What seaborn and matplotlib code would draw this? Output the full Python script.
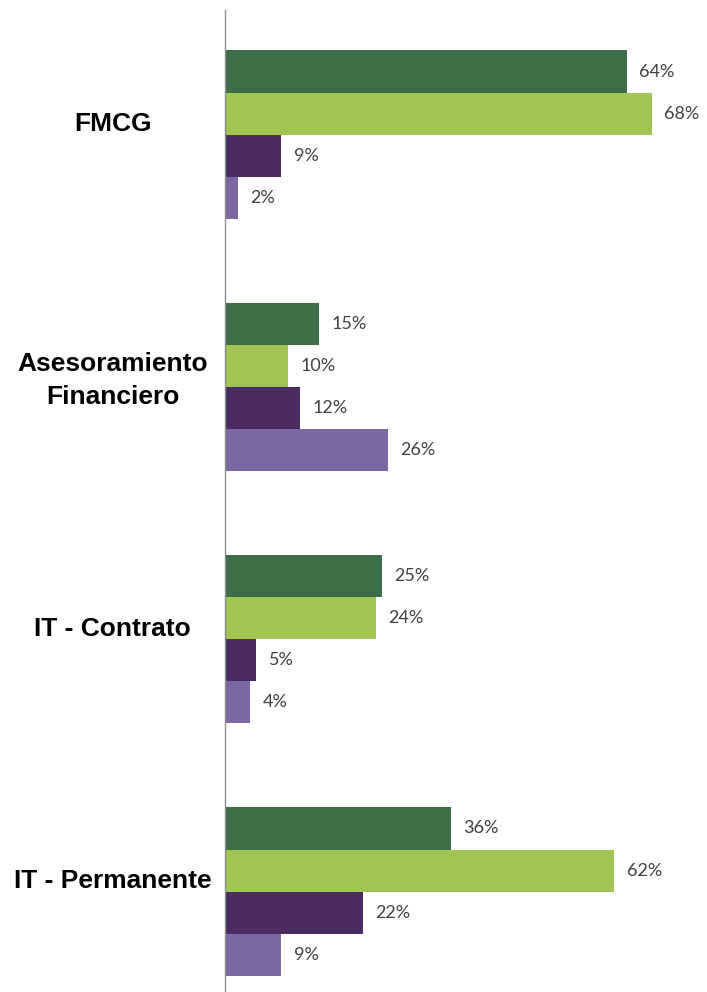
import pandas as pd
import matplotlib.pyplot as plt
import matplotlib.transforms as mtransforms
import seaborn as sns

# ================================
# DATA
# ================================
sectores = ["FMCG", "Asesoramiento\nFinanciero", "IT - Contrato", "IT - Permanente"]
series = ["Serie 1", "Serie 2", "Serie 3", "Serie 4"]
serie_1 = [64, 15, 25, 36]
serie_2 = [68, 10, 24, 62]
serie_3 = [9, 12, 5, 22]
serie_4 = [2, 26, 4, 9]
colores = ["#3E6E47", "#A0C552", "#4A2C62", "#7B67A3"]

rows = []
for name, vals in zip(series, [serie_1, serie_2, serie_3, serie_4]):
    for sec, v in zip(sectores, vals):
        rows.append({"Sector": sec, "Serie": name, "Valor": v})
df = pd.DataFrame(rows)

# ================================
# PLOT
# ================================
sns.set_style("white")
plt.rcParams["font.family"] = ["Liberation Sans", "DejaVu Sans"]

fig = plt.figure(figsize=(7.07, 9.92), dpi=100)
ax = fig.add_axes([225 / 707, 0, (707 - 225) / 707, (992 - 10) / 992])

sns.barplot(data=df, y="Sector", x="Valor", hue="Serie", order=sectores,
            hue_order=series, palette=colores, orient="h", width=0.667,
            saturation=1, linewidth=0, legend=False, ax=ax)

for cont in ax.containers:
    ax.bar_label(cont, fmt="%d%%", padding=9, fontsize=13,
                 family="Lato", color="#404040")

ax.set_xlim(0, 76.8)
ax.set_ylim(3.398, -0.494)
ax.set_xlabel("")
ax.set_ylabel("")
ax.set_xticks([])

for s in ["top", "right", "bottom"]:
    ax.spines[s].set_visible(False)
ax.spines["left"].set_color("#8C8C8C")
ax.spines["left"].set_linewidth(1)

# category labels sit a bit above the group centre
ax.tick_params(axis="y", length=0, pad=81)
shift = mtransforms.ScaledTranslation(0, 13 / 100, fig.dpi_scale_trans)
for lbl in ax.get_yticklabels():
    lbl.set_fontsize(19)
    lbl.set_fontweight("bold")
    lbl.set_color("black")
    lbl.set_horizontalalignment("center")
    lbl.set_multialignment("center")
    lbl.set_linespacing(1.45)
    lbl.set_transform(lbl.get_transform() + shift)

fig.savefig("out.png", dpi=100)
